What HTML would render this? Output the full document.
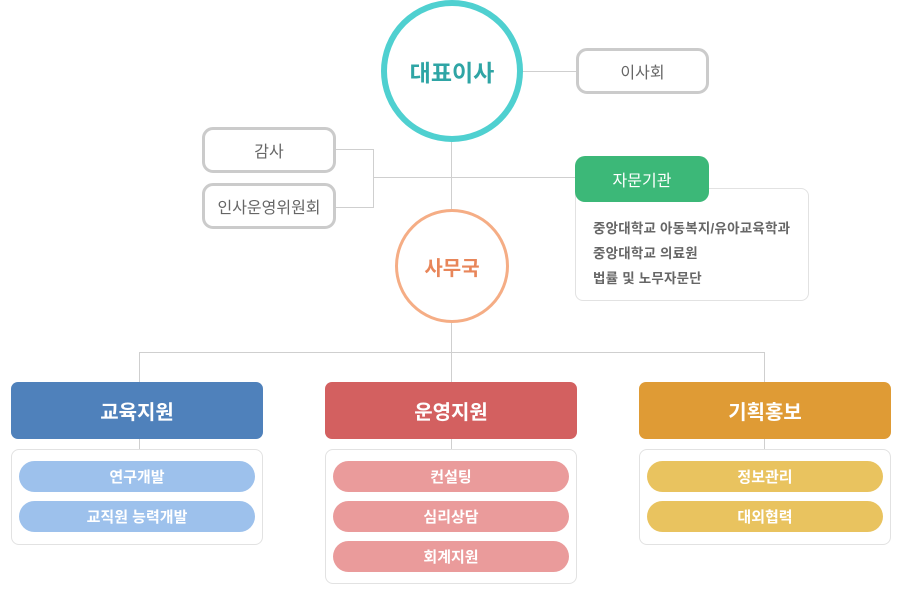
<!DOCTYPE html>
<html><head><meta charset="utf-8"><style>
body{margin:0;width:900px;height:599px;background:#fff;position:relative;font-family:"Liberation Sans","Noto Sans CJK KR",sans-serif;overflow:hidden}
div{position:absolute;box-sizing:border-box}
.l{background:#cfcfcf}
.c{display:flex;align-items:center;justify-content:center}
.gb{border:3px solid #cbcbcb;border-radius:11px;background:#fff;color:#666;font-size:16px}
.hd{border-radius:7px;color:#fff;font-size:20px;font-weight:bold}
.sb{border:1px solid #e2e2e2;border-radius:8px;background:#fff}
.p{left:7px;right:7px;height:31px;border-radius:16px;color:#fff;font-size:15px;font-weight:bold}
</style></head><body>
<div class="l" style="left:451px;top:140px;width:1px;height:72px"></div>
<div class="l" style="left:520px;top:71px;width:58px;height:1px"></div>
<div class="l" style="left:335px;top:149px;width:38px;height:1px"></div>
<div class="l" style="left:335px;top:207px;width:38px;height:1px"></div>
<div class="l" style="left:373px;top:149px;width:1px;height:59px"></div>
<div class="l" style="left:373px;top:177px;width:205px;height:1px"></div>
<div class="l" style="left:451px;top:320px;width:1px;height:32px"></div>
<div class="l" style="left:139px;top:352px;width:626px;height:1px"></div>
<div class="l" style="left:139px;top:352px;width:1px;height:100px"></div>
<div class="l" style="left:451px;top:352px;width:1px;height:100px"></div>
<div class="l" style="left:764px;top:352px;width:1px;height:100px"></div>

<div class="c" style="left:381px;top:0;width:142px;height:142px;border:6px solid #4fd0d0;border-radius:50%;background:#fff;color:#2fa5a5;font-size:23px;font-weight:bold">대표이사</div>
<div class="gb c" style="left:576px;top:48px;width:133px;height:46px">이사회</div>
<div class="gb c" style="left:202px;top:127px;width:134px;height:46px">감사</div>
<div class="gb c" style="left:202px;top:183px;width:134px;height:46px">인사운영위원회</div>
<div class="sb" style="left:575px;top:188px;width:234px;height:113px;color:#666;font-size:13.5px;font-weight:bold;padding:27px 0 0 17px;line-height:25px;letter-spacing:0.2px">중앙대학교 아동복지/유아교육학과<br>중앙대학교 의료원<br>법률 및 노무자문단</div>
<div class="c" style="left:575px;top:156px;width:134px;height:46px;background:#3cb878;border-radius:10px;color:#fff;font-size:16px">자문기관</div>
<div class="c" style="left:395px;top:209px;width:114px;height:114px;border:3px solid #f5ad85;border-radius:50%;background:#fff;color:#e8865a;font-size:20px;font-weight:bold">사무국</div>

<div class="hd c" style="left:11px;top:382px;width:252px;height:57px;background:#4f81bb">교육지원</div>
<div class="hd c" style="left:325px;top:382px;width:252px;height:57px;background:#d36060">운영지원</div>
<div class="hd c" style="left:639px;top:382px;width:252px;height:57px;background:#df9b35">기획홍보</div>

<div class="sb" style="left:11px;top:449px;width:252px;height:96px">
<div class="p c" style="top:11px;background:#9dc1ec">연구개발</div>
<div class="p c" style="top:51px;background:#9dc1ec">교직원 능력개발</div></div>
<div class="sb" style="left:325px;top:449px;width:252px;height:135px">
<div class="p c" style="top:11px;background:#ea9b9b">컨설팅</div>
<div class="p c" style="top:51px;background:#ea9b9b">심리상담</div>
<div class="p c" style="top:91px;background:#ea9b9b">회계지원</div></div>
<div class="sb" style="left:639px;top:449px;width:252px;height:96px">
<div class="p c" style="top:11px;background:#e9c35f">정보관리</div>
<div class="p c" style="top:51px;background:#e9c35f">대외협력</div></div>
</body></html>
